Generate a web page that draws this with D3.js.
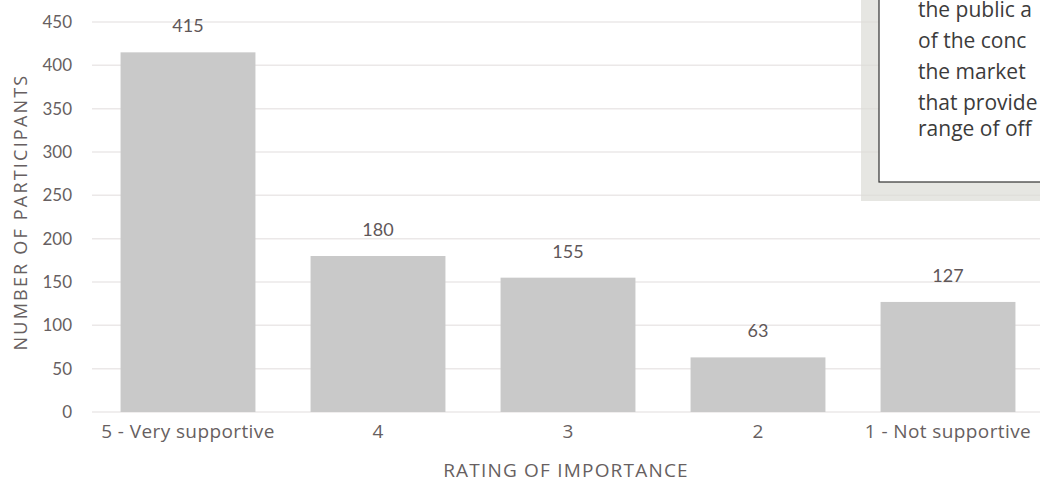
<!DOCTYPE html>
<html>
<head>
<meta charset="utf-8">
<script src="https://cdn.jsdelivr.net/npm/d3@7"></script>
<style>
  body { margin: 0; background: #fff; }
  svg { display: block; }
</style>
</head>
<body>
<div id="chart"></div>
<script>
// data
const ratings = ["5 - Very supportive", "4", "3", "2", "1 - Not supportive"];
const participants = [415, 180, 155, 63, 127];
const yTicks = [0, 50, 100, 150, 200, 250, 300, 350, 400, 450];
// the note is cut off by the picture edge, only the visible part is kept
const noteLines = ["the public a", "of the conc", "the market", "that provide", "range of off"];
const noteBaselines = [17, 48, 79, 110, 136];

const width = 1040;
const height = 484;
const margin = { top: 22, right: -3, bottom: 72, left: 93 };

const svg = d3.select("#chart")
  .append("svg")
  .attr("width", width)
  .attr("height", height)
  .style("font-family", "'Open Sans', Lato, sans-serif");

const xScale = d3.scaleBand()
  .domain(ratings)
  .range([margin.left, width - margin.right])
  .paddingInner(0.29)
  .paddingOuter(0.145);

const yScale = d3.scaleLinear()
  .domain([0, 450])
  .range([height - margin.bottom, margin.top]);

const textCol = "#675f61";

// gridlines
svg.append("g")
  .selectAll("line")
  .data(yTicks)
  .join("line")
  .attr("x1", margin.left - 1)
  .attr("x2", width)
  .attr("y1", d => yScale(d))
  .attr("y2", d => yScale(d))
  .attr("stroke", "#ebe8e8")
  .attr("stroke-width", 1.5);

// y axis labels
const yAxis = svg.append("g")
  .attr("transform", `translate(${margin.left - 21},0)`)
  .call(d3.axisLeft(yScale).tickValues(yTicks).tickSize(0).tickPadding(0));
yAxis.select(".domain").remove();
yAxis.selectAll("text")
  .attr("fill", textCol)
  .style("font-size", "17px")
  .style("font-family", "Lato, sans-serif");

// bars
const bars = svg.append("g")
  .selectAll("g")
  .data(ratings)
  .join("g")
  .attr("transform", d => `translate(${xScale(d)},0)`);

bars.append("rect")
  .attr("x", 0)
  .attr("y", (d, i) => yScale(participants[i]))
  .attr("width", xScale.bandwidth())
  .attr("height", (d, i) => yScale(0) - yScale(participants[i]))
  .attr("fill", "#c9c9c9");

bars.append("text")
  .text((d, i) => participants[i])
  .attr("x", xScale.bandwidth() / 2)
  .attr("y", (d, i) => yScale(participants[i]) - 20)
  .attr("text-anchor", "middle")
  .attr("fill", "#5f5759")
  .style("font-family", "Lato, sans-serif")
  .style("font-size", "18px");

// x axis labels
const xAxis = svg.append("g")
  .attr("transform", `translate(0,${yScale(0) + 12})`)
  .call(d3.axisBottom(xScale).tickSize(0).tickPadding(0));
xAxis.select(".domain").remove();
xAxis.selectAll("text")
  .attr("fill", textCol)
  .attr("dy", "0.75em")
  .style("font-size", "19px")
  .style("letter-spacing", "0.4px")
  .style("font-family", "'Open Sans', sans-serif");

// axis titles
svg.append("text")
  .text("RATING OF IMPORTANCE")
  .attr("x", 566)
  .attr("y", 477)
  .attr("text-anchor", "middle")
  .attr("fill", textCol)
  .style("font-size", "19px")
  .style("letter-spacing", "1.2px");

svg.append("text")
  .text("NUMBER OF PARTICIPANTS")
  .attr("transform", "translate(27,212) rotate(-90)")
  .attr("text-anchor", "middle")
  .attr("fill", textCol)
  .style("font-size", "18px")
  .style("letter-spacing", "2.2px");

// note box in the corner
svg.append("rect")
  .attr("x", 861)
  .attr("y", -10)
  .attr("width", 200)
  .attr("height", 211)
  .attr("fill", "#dcdcd6")
  .attr("opacity", 0.7);

svg.append("rect")
  .attr("x", 879)
  .attr("y", -10)
  .attr("width", 200)
  .attr("height", 192)
  .attr("fill", "#fff")
  .attr("stroke", "#333")
  .attr("stroke-width", 1.2);

svg.append("g")
  .selectAll("text")
  .data(noteLines)
  .join("text")
  .text(d => d)
  .attr("x", 918)
  .attr("y", (d, i) => noteBaselines[i])
  .attr("fill", "#3c3b3b")
  .style("font-size", "21px");
</script>
</body>
</html>
